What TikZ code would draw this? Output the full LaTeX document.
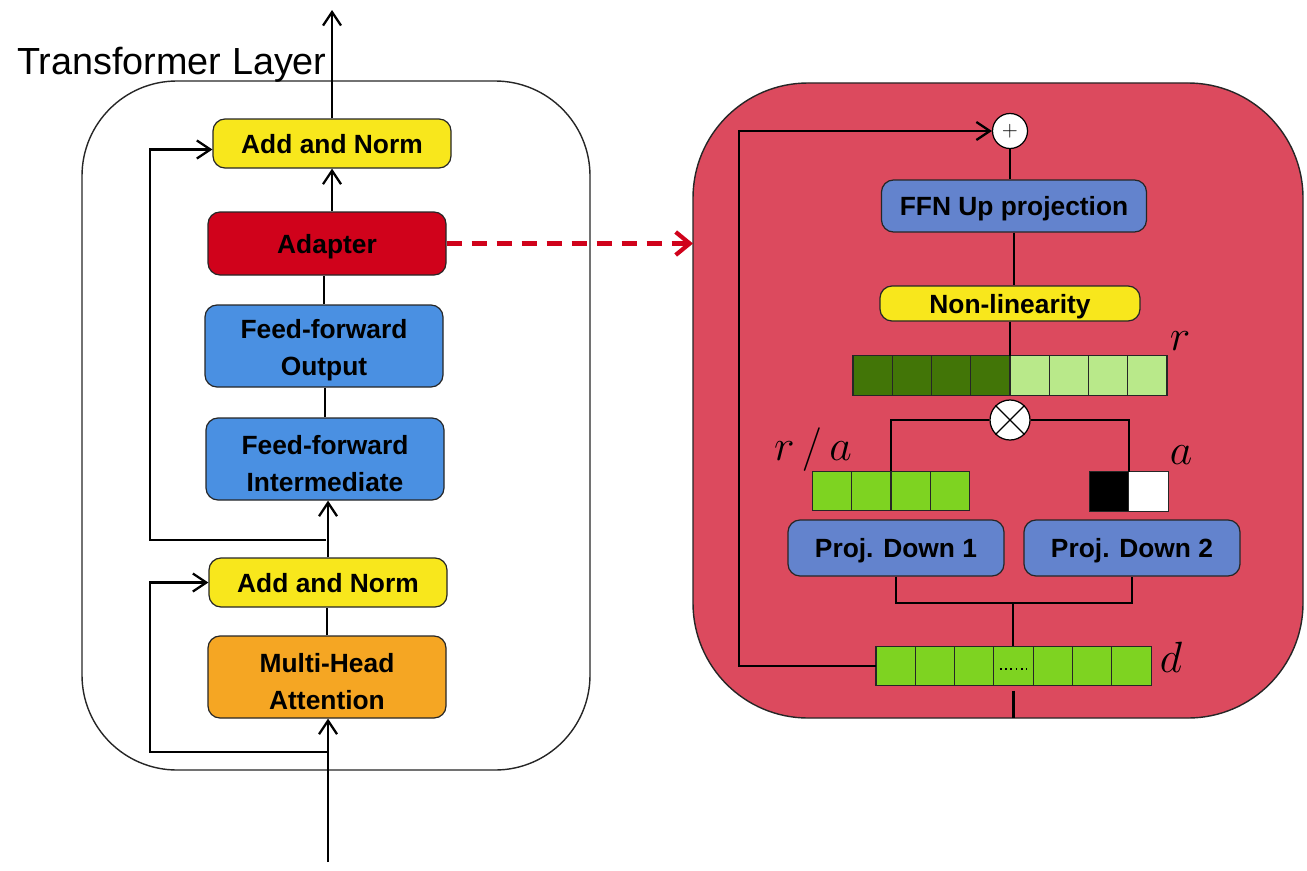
\documentclass[tikz,border=0pt]{standalone}
\usepackage{fontspec}
\setmainfont{Liberation Sans}
\usetikzlibrary{arrows.meta}

\definecolor{normyellow}{HTML}{F8E71C}
\definecolor{adaptred}{HTML}{D0021B}
\definecolor{ffblue}{HTML}{4A90E2}
\definecolor{attnorange}{HTML}{F5A623}
\definecolor{panelred}{HTML}{DC4A5E}
\definecolor{projblue}{HTML}{6383CD}
\definecolor{darkgreen}{HTML}{427507}
\definecolor{palegreen}{HTML}{B9E98A}
\definecolor{cellgreen}{HTML}{7ED321}

% pushes two-line labels a little lower in their box
\newcommand{\topstrut}{\rule{0pt}{16pt}}

\begin{document}
\begin{tikzpicture}[x=0.2mm, y=-0.2mm,
  >={Straight Barb[length=2.7mm,width=3.6mm]},
  block/.style={draw=black!85, line width=0.7pt, rounded corners=2.4mm, inner sep=0pt,
    align=center, minimum width=47.6mm, font=\fontsize{15}{21}\selectfont\bfseries},
  oneline/.style={block, text depth=0pt},
  frame/.style={draw=black!85, line width=0.8pt, inner sep=0pt, outer sep=0pt},
  wire/.style={line width=1.3pt},
  cell/.style={draw=black!85, line width=0.6pt, minimum size=7.85mm, inner sep=0pt, outer sep=0pt},
  dim/.style={anchor=base, font=\fontsize{24}{24}\selectfont}]
  \useasboundingbox (0,0) rectangle (1307,870);

  % transformer layer
  \node[frame, rounded corners=19mm, minimum width=101.6mm, minimum height=137.8mm] (layer) at (336,425.5) {};
  \node[anchor=base west, font=\fontsize{21.5}{24}\selectfont] (title) at (11,74) {Transformer Layer};

  \node[oneline, fill=normyellow, minimum height=9.8mm] (an2) at (332,143.5) {Add and Norm};
  \node[oneline, fill=adaptred, minimum height=12.6mm] (adapter) at (327,243.5) {Adapter};
  \node[block, fill=ffblue, minimum height=16.4mm] (ffout) at (324,346) {\topstrut Feed-forward\\Output};
  \node[block, fill=ffblue, minimum height=16.4mm] (ffint) at (325,459) {\topstrut Feed-forward\\Intermediate};
  \node[oneline, fill=normyellow, minimum height=9.8mm] (an1) at (328,582.5) {Add and Norm};
  \node[block, fill=attnorange, minimum height=16.4mm] (mha) at (327,677) {\topstrut Multi-Head\\Attention};

  \coordinate (in) at (328,862);
  \coordinate (out) at (332,10);
  \coordinate (res1) at (328,752);
  \coordinate (res2) at (326,540);

  \draw[wire,->] (in) -- (in |- mha.south);
  \draw[wire,->] (res1) -- ++(-178,0) |- (an1.west);
  \draw[wire] (mha.north) -- (mha.north |- an1.south);
  \draw[wire,->] (an1.north) -- (an1.north |- ffint.south);
  \draw[wire,->] (res2) -- ++(-176,0) |- ([yshift=-1.2mm]an2.west);
  \draw[wire] (ffint.north) -- (ffint.north |- ffout.south);
  \draw[wire] (ffout.north) -- (ffout.north |- adapter.south);
  \draw[wire,->] (an2.south |- adapter.north) -- (an2.south);
  \draw[wire,->] (an2.north) -- (out);

  % adapter panel
  \node[frame, fill=panelred, rounded corners=23mm, minimum width=122mm, minimum height=127mm] (panel) at (998,400.5) {};
  \draw[adaptred, line width=2.4pt, dash pattern=on 3mm off 2mm,
    -{Straight Barb[length=2.8mm,width=4.6mm]}] (adapter.east) -- (adapter.east -| panel.west);

  \node[circle, draw, fill=white, line width=0.7pt, minimum size=7mm, inner sep=0pt] (plus) at (1010,131) {\fontsize{13}{13}\selectfont$+$};
  \node[oneline, fill=projblue, minimum width=53mm, minimum height=10.4mm] (up) at (1014,206) {FFN Up projection};
  \node[oneline, fill=normyellow, minimum width=52mm, minimum height=7mm] (nonlin) at (1010,303.5) {Non-linearity};

  \foreach \i/\c in {1/darkgreen,2/darkgreen,3/darkgreen,4/darkgreen,5/palegreen,6/palegreen,7/palegreen,8/palegreen}
    \node[cell, fill=\c] (r\i) at ({872.6+(\i-1)*39.25},375.5) {};
  \node[dim] (rlab) at (1180,350) {$r$};

  \node[circle, draw, fill=white, line width=0.7pt, minimum size=8mm, inner sep=0pt] (mul) at (1010,420) {};
  \draw[line width=0.7pt] (mul.45) -- (mul.225) (mul.135) -- (mul.315);

  \foreach \i in {1,...,4}
    \node[cell, fill=cellgreen] (ra\i) at ({831.7+(\i-1)*39.5},491) {};
  \node[dim] (ralab) at (813,460) {$r\,/\,a$};
  \node[cell, fill=black] (a1) at (1109.5,491.5) {};
  \node[cell, fill=white] (a2) at (1148.5,491.5) {};
  \node[dim] (alab) at (1181,464) {$a$};

  \node[oneline, fill=projblue, minimum width=43.2mm, minimum height=11.2mm] (pd1) at (896,548) {Proj. Down 1};
  \node[oneline, fill=projblue, minimum width=43.2mm, minimum height=11.2mm] (pd2) at (1132,548) {Proj. Down 2};

  \foreach \i in {1,...,7}
    \node[cell, fill=cellgreen] (d\i) at ({895.6+(\i-1)*39.3},666) {};
  \draw[dotted, line width=1pt] ([xshift=1.2mm,yshift=-0.6mm]d4.west) -- ([xshift=-1.2mm,yshift=-0.6mm]d4.east);
  \node[dim] (dlab) at (1171,672) {$d$};

  \coordinate (join) at (1013,603);
  \draw[wire] ([yshift=-1mm]d4.south) -- (d4.south |- panel.south);
  \draw[wire] (join) -- (join |- d4.north);
  \draw[wire] (pd1.south) |- (join) -| (pd2.south);
  \draw[wire] (mul.west) -| (ra2.north east);
  \draw[wire] (mul.east) -| (a1.north east);
  \draw[wire] (nonlin.south) -- (nonlin.south |- r4.north);
  \draw[wire] (up.south) -- (up.south |- nonlin.north);
  \draw[wire] (plus.south) -- (plus.south |- up.north);
  \draw[wire,->] (d1.west) -- ++(-137,0) |- (plus.west);
\end{tikzpicture}
\end{document}
